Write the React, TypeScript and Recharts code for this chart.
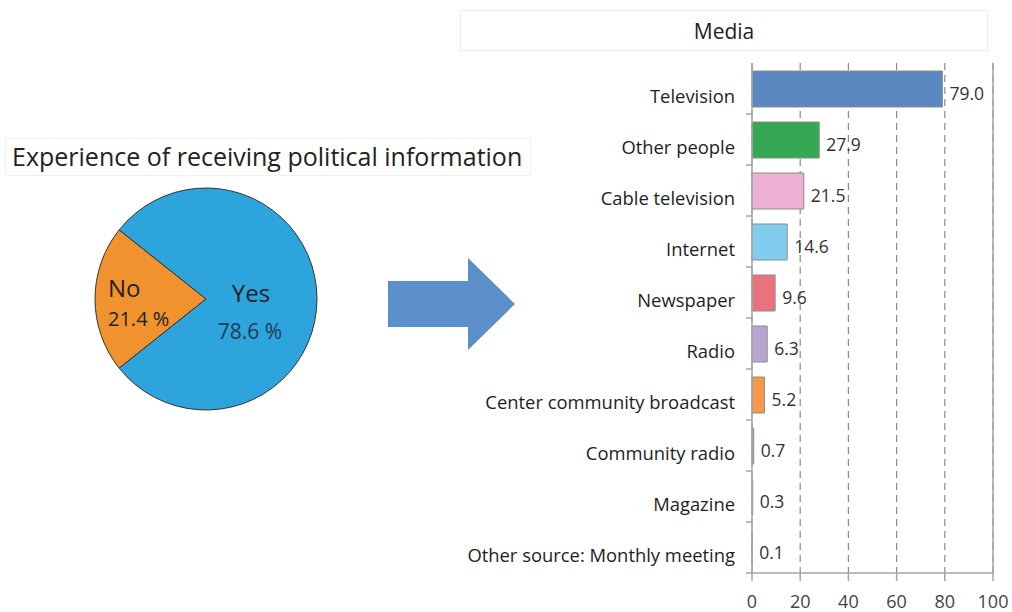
import React from 'react';
import {
  Bar,
  BarChart,
  CartesianGrid,
  Cell,
  LabelList,
  Pie,
  PieChart,
  ReferenceLine,
  XAxis,
  YAxis,
} from 'recharts';

const pieNames = ['No', 'Yes'];
const pieValues = [21.4, 78.6];
const pieColors = ['#f0922e', '#2ea4dd'];

const mediaNames = [
  'Television',
  'Other people',
  'Cable television',
  'Internet',
  'Newspaper',
  'Radio',
  'Center community broadcast',
  'Community radio',
  'Magazine',
  'Other source: Monthly meeting',
];
const mediaValues = [79.0, 27.9, 21.5, 14.6, 9.6, 6.3, 5.2, 0.7, 0.3, 0.1];
const mediaColors = [
  '#5b88c0',
  '#35a853',
  '#eeb0d2',
  '#80cdee',
  '#e9727c',
  '#b9a5d1',
  '#f5984c',
  '#a8a8bc',
  '#c0c0c0',
  '#c0c0c0',
];
const xTicks = [0, 20, 40, 60, 80, 100];

const pieData = pieNames.map((name, i) => ({ name, value: pieValues[i] }));
const mediaData = mediaNames.map((name, i) => ({ name, value: mediaValues[i] }));

const FONT = '"Open Sans", Lato, sans-serif';
const AXIS = '#a6a6a6';

// label placement inside the pie, relative to its centre
const pieLabelStyle: Record<
  string,
  { nx: number; ny: number; px: number; py: number; anchor: 'start' | 'middle'; pctColor: string; pctSize: number }
> = {
  No: { nx: -98, ny: -2, px: -98, py: 27, anchor: 'start', pctColor: '#222', pctSize: 20 },
  Yes: { nx: 45, ny: 3, px: 44, py: 40, anchor: 'middle', pctColor: '#1f3a55', pctSize: 21 },
};

function PieLabel(props: any) {
  const { cx, cy, name, value } = props;
  const s = pieLabelStyle[name];
  return (
    <g fontFamily={FONT}>
      <text x={cx + s.nx} y={cy + s.ny} textAnchor={s.anchor} fontSize={24} fill="#222">
        {name}
      </text>
      <text x={cx + s.px} y={cy + s.py} textAnchor={s.anchor} fontSize={s.pctSize} fill={s.pctColor}>
        {value.toFixed(1)} %
      </text>
    </g>
  );
}

function CategoryTick(props: any) {
  const { x, y, payload } = props;
  return (
    <g>
      <text x={x - 9} y={y + 8} dy="0.35em" textAnchor="end" fontSize={18.4} fill="#1e1e1e" fontFamily={FONT}>
        {payload.value}
      </text>
      <line x1={x + 2} x2={x + 8} y1={y + 25.5} y2={y + 25.5} stroke={AXIS} strokeWidth={1.5} />
    </g>
  );
}

function ValueLabel(props: any) {
  const { x, y, width, height, value } = props;
  return (
    <text
      x={x + width + 7}
      y={y + height / 2 + 5}
      dy="0.35em"
      fontSize={17.5}
      fill="#333"
      fontFamily={FONT}
    >
      {Number(value).toFixed(1)}
    </text>
  );
}

export default function App() {
  return (
    <div style={{ position: 'absolute', left: 0, top: 0, width: 1012, height: 612, background: '#fff', fontFamily: FONT }}>
      <div
        style={{
          position: 'absolute',
          left: 5,
          top: 138,
          width: 526,
          height: 38,
          border: '1px solid #f0f0f0',
          fontSize: 25,
          color: '#222',
          lineHeight: '35px',
          paddingLeft: 6,
          boxSizing: 'border-box',
          whiteSpace: 'nowrap',
        }}
      >
        Experience of receiving political information
      </div>

      <div style={{ position: 'absolute', left: 86, top: 179 }}>
        <PieChart width={240} height={240} margin={{ top: 0, right: 0, bottom: 0, left: 0 }}>
          <Pie
            data={pieData}
            dataKey="value"
            nameKey="name"
            cx={120}
            cy={120}
            outerRadius={111}
            startAngle={141.5}
            endAngle={501.5}
            stroke="#333"
            strokeWidth={1}
            label={PieLabel}
            labelLine={false}
            isAnimationActive={false}
          >
            {pieData.map((d, i) => (
              <Cell key={d.name} fill={pieColors[i]} />
            ))}
          </Pie>
        </PieChart>
      </div>

      <div
        style={{
          position: 'absolute',
          left: 388,
          top: 258,
          width: 127,
          height: 92,
          background: '#5b8fca',
          clipPath: 'polygon(0 25%, 63% 25%, 63% 0, 100% 50%, 63% 100%, 63% 75%, 0 75%)',
        }}
      />

      <div
        style={{
          position: 'absolute',
          left: 460,
          top: 10,
          width: 528,
          height: 41,
          border: '1px solid #ececec',
          boxSizing: 'border-box',
          textAlign: 'center',
          fontSize: 21,
          lineHeight: '40px',
          color: '#222',
        }}
      >
        Media
      </div>

      <div style={{ position: 'absolute', left: 0, top: 0 }}>
        <BarChart
          width={1012}
          height={612}
          layout="vertical"
          data={mediaData}
          margin={{ top: 63, right: 19, bottom: 0, left: 0 }}
          barSize={36}
        >
          <CartesianGrid horizontal={false} stroke="#8a8a8a" strokeDasharray="7 5" strokeWidth={1.2} />
          <XAxis
            type="number"
            domain={[0, 100]}
            ticks={xTicks}
            height={39}
            tickSize={8}
            tickMargin={14}
            axisLine={{ stroke: AXIS, strokeWidth: 1.5 }}
            tickLine={{ stroke: AXIS, strokeWidth: 1.5 }}
            tick={{ fontSize: 18, fill: '#444', fontFamily: FONT }}
          />
          <XAxis
            xAxisId="top"
            orientation="top"
            type="number"
            domain={[0, 100]}
            height={0}
            tick={false}
            tickLine={false}
            axisLine={{ stroke: AXIS, strokeWidth: 1.5 }}
          />
          <YAxis
            type="category"
            dataKey="name"
            width={752}
            tickLine={false}
            axisLine={{ stroke: AXIS, strokeWidth: 1.5 }}
            tick={CategoryTick}
            interval={0}
          />
          <ReferenceLine x={100} stroke={AXIS} strokeWidth={1.5} />
          <Bar dataKey="value" stroke="#8c8c8c" strokeWidth={1} isAnimationActive={false}>
            {mediaData.map((d, i) => (
              <Cell key={d.name} fill={mediaColors[i]} />
            ))}
            <LabelList dataKey="value" content={ValueLabel} />
          </Bar>
        </BarChart>
      </div>
    </div>
  );
}
